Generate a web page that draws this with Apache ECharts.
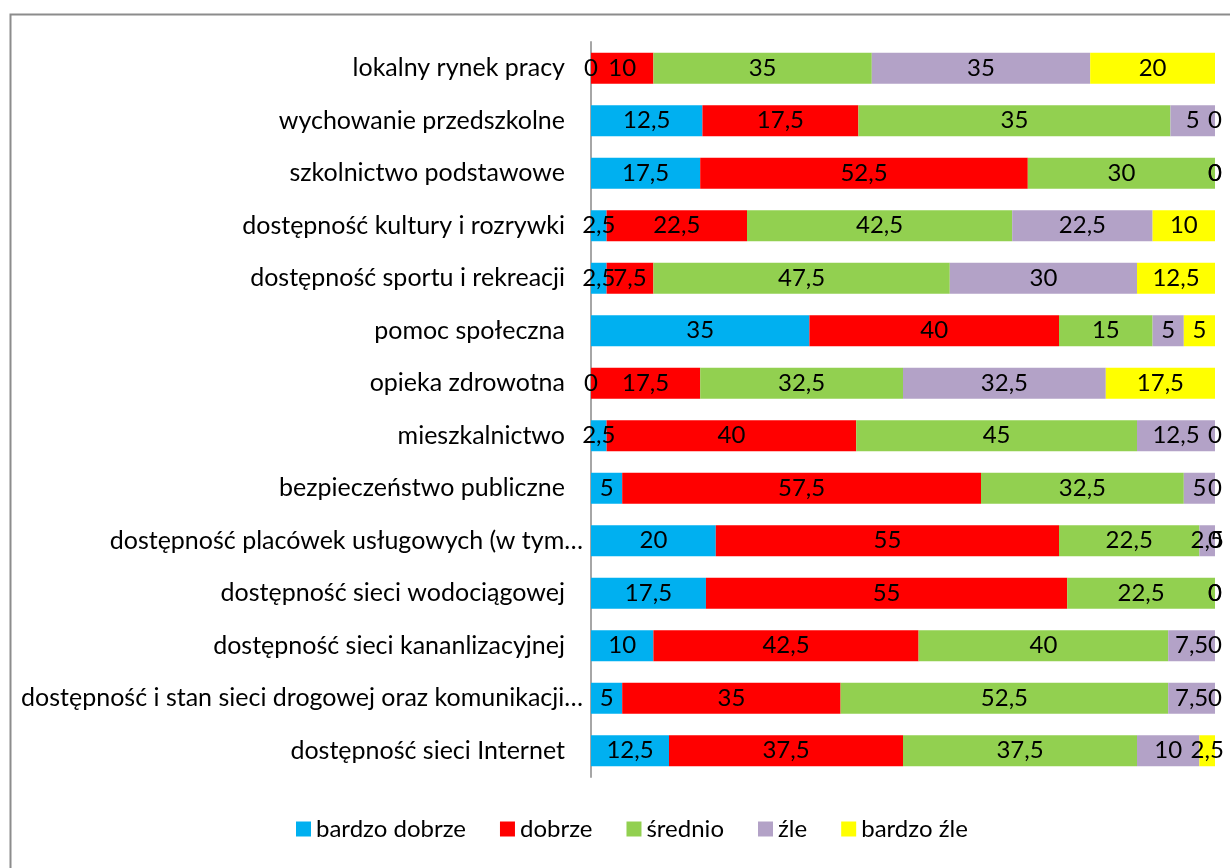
<!DOCTYPE html>
<html>
<head>
<meta charset="utf-8">
<script src="https://cdn.jsdelivr.net/npm/echarts@6/dist/echarts.min.js"></script>
<style>
  html, body { margin: 0; padding: 0; background: #fff; }
  #chart { width: 1230px; height: 868px; }
</style>
</head>
<body>
<div id="chart"></div>
<script>
var categories = [
    'lokalny rynek pracy',
    'wychowanie przedszkolne',
    'szkolnictwo podstawowe',
    'dostępność kultury i rozrywki',
    'dostępność sportu i rekreacji',
    'pomoc społeczna',
    'opieka zdrowotna',
    'mieszkalnictwo',
    'bezpieczeństwo publiczne',
    'dostępność placówek usługowych (w tym…',
    'dostępność sieci wodociągowej',
    'dostępność sieci kananlizacyjnej',
    'dostępność i stan sieci drogowej oraz komunikacji…',
    'dostępność sieci Internet'
];

var seriesNames = ['bardzo dobrze', 'dobrze', 'średnio', 'źle', 'bardzo źle'];
var colors = ['#00B0F0', '#FF0000', '#92D050', '#B3A2C7', '#FFFF00'];

var bardzoDobrze = [0, 12.5, 17.5, 2.5, 2.5, 35, 0, 2.5, 5, 20, 17.5, 10, 5, 12.5];
var dobrze       = [10, 17.5, 52.5, 22.5, 7.5, 40, 17.5, 40, 57.5, 55, 55, 42.5, 35, 37.5];
var srednio      = [35, 35, 30, 42.5, 47.5, 15, 32.5, 45, 32.5, 22.5, 22.5, 40, 52.5, 37.5];
var zle          = [35, 5, 0, 22.5, 30, 5, 32.5, 12.5, 5, 2.5, 0, 7.5, 7.5, 10];
var bardzoZle    = [20, 0, 0, 10, 12.5, 5, 17.5, 0, 0, 0, 0, 0, 0, 2.5];

var raw = [bardzoDobrze, dobrze, srednio, zle, bardzoZle];

// 100% stacked: each row scaled to its own total
var totals = categories.map(function (c, i) {
    return raw.reduce(function (s, arr) { return s + arr[i]; }, 0);
});

var series = raw.map(function (arr, k) {
    return {
        name: seriesNames[k],
        type: 'bar',
        stack: 'total',
        barWidth: 31,
        itemStyle: { color: colors[k] },
        label: {
            show: true,
            position: 'inside',
            color: '#000',
            fontSize: 24,
            fontFamily: 'Lato',
            formatter: function (p) {
                return String(arr[p.dataIndex]).replace('.', ',');
            }
        },
        data: arr.map(function (v, i) { return v / totals[i] * 100; })
    };
});

var option = {
    animation: false,
    textStyle: { fontFamily: 'Lato' },
    grid: {
        left: 591,
        right: 15,
        top: 42,
        bottom: 91
    },
    xAxis: {
        type: 'value',
        min: 0,
        max: 100,
        show: false
    },
    yAxis: {
        type: 'category',
        inverse: true,
        data: categories,
        axisLine: { show: true, lineStyle: { color: '#a6a6a6', width: 2 } },
        axisTick: { show: false },
        axisLabel: {
            color: '#000',
            fontSize: 25,
            margin: 8,
            formatter: function (v) {
                return v.slice(-1) === '…' ? v : v + '{g|}';
            },
            rich: { g: { width: 18 } }
        }
    },
    legend: {
        bottom: 22,
        left: 291,
        icon: 'rect',
        itemWidth: 15,
        itemHeight: 15,
        itemGap: 34,
        textStyle: { fontSize: 24, color: '#000', fontFamily: 'Lato' },
        data: seriesNames
    },
    graphic: [{
        type: 'rect',
        left: 8,
        top: 12,
        shape: { width: 1240, height: 900 },
        style: { fill: 'none', stroke: '#8c8c8c', lineWidth: 2 },
        silent: true
    }],
    series: series
};

var myChart = echarts.init(document.getElementById('chart'));
myChart.setOption(option);
</script>
</body>
</html>
